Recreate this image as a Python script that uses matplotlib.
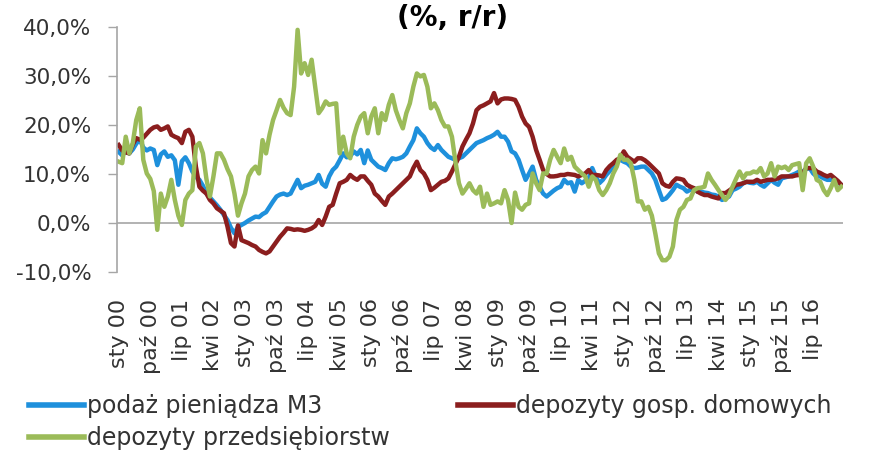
# Money supply and deposits growth (y/y), monthly 2000-2017
import numpy as np
import matplotlib
matplotlib.use('Agg')
import matplotlib.pyplot as plt
from matplotlib.ticker import FuncFormatter

# Polish month abbreviations used for the category axis
months_pl = ['sty', 'lut', 'mar', 'kwi', 'maj', 'cze',
             'lip', 'sie', 'wrz', 'paź', 'lis', 'gru']
start_year = 2000
label_step = 9

# podaż pieniądza M3 (%, r/r), one row per year
m3 = [
    14.5, 13.8, 14.6, 14.2, 15.0, 16.2, 17.0, 15.4, 14.8, 15.2, 14.9, 11.8,
    14.0, 14.6, 13.5, 13.8, 12.8, 7.8, 12.6, 13.4, 12.2, 10.5, 9.4, 8.8,
    7.6, 6.0, 5.2, 4.4, 3.6, 2.7, 1.6, 0.6, -1.0, -2.1, -0.8, -0.4,
    0.0, 0.5, 0.9, 1.3, 1.2, 1.8, 2.2, 3.3, 4.4, 5.4, 5.8, 6.0,
    5.7, 6.0, 7.4, 8.8, 7.1, 7.6, 7.8, 8.1, 8.4, 9.8, 8.0, 7.4,
    9.5, 10.8, 11.5, 12.8, 14.2, 13.4, 13.6, 14.6, 14.0, 14.9, 12.2, 14.8,
    12.9, 12.2, 11.5, 11.2, 10.8, 12.2, 13.2, 13.0, 13.2, 13.5, 14.2, 15.6,
    16.9, 19.3, 18.3, 17.6, 16.3, 15.4, 14.9, 15.9, 14.9, 14.2, 13.5, 13.2,
    12.9, 13.2, 13.5, 14.2, 14.9, 15.6, 16.3, 16.6, 16.9, 17.3, 17.6, 18.0,
    18.6, 17.6, 17.6, 16.6, 14.6, 14.2, 12.9, 10.8, 8.8, 10.1, 11.5, 8.8,
    7.4, 6.0, 5.4, 6.0, 6.6, 7.1, 7.4, 8.8, 8.1, 8.3, 6.4, 8.8,
    8.1, 8.6, 9.1, 11.2, 9.5, 8.1, 8.8, 9.8, 10.6, 11.5, 12.5, 12.9,
    12.5, 12.2, 11.5, 11.2, 11.3, 11.5, 11.5, 10.8, 10.1, 8.8, 6.7, 4.7,
    5.0, 5.8, 6.7, 7.8, 7.4, 7.1, 6.4, 6.8, 7.1, 6.4, 6.4, 6.2,
    6.1, 5.8, 5.7, 5.4, 4.7, 5.0, 5.4, 6.7, 7.0, 7.4, 8.1, 8.4,
    8.2, 8.1, 8.4, 7.8, 7.4, 8.1, 8.8, 8.2, 7.8, 9.1, 9.3, 9.5,
    9.8, 10.1, 10.5, 10.5, 11.0, 11.2, 10.1, 9.5, 9.5, 9.1, 8.8, 8.8,
    9.1, 8.3, 7.8,
]

# depozyty gosp. domowych (%, r/r)
households = [
    15.9, 14.8, 14.4, 14.2, 16.0, 17.3, 17.0, 17.4, 18.2, 19.0, 19.5, 19.7,
    19.0, 19.3, 19.7, 18.0, 17.6, 17.3, 16.3, 18.6, 19.0, 17.6, 11.5, 7.4,
    6.6, 6.0, 4.7, 4.0, 3.0, 2.5, 2.0, -0.7, -4.1, -4.8, -0.5, -3.5,
    -3.8, -4.1, -4.5, -4.8, -5.5, -5.9, -6.2, -5.8, -4.8, -3.8, -2.8, -2.0,
    -1.1, -1.2, -1.4, -1.3, -1.4, -1.6, -1.4, -1.1, -0.6, 0.6, -0.4, 1.3,
    3.3, 3.7, 6.0, 8.1, 8.4, 8.8, 9.8, 9.2, 8.8, 9.5, 9.5, 8.6,
    7.8, 6.0, 5.4, 4.5, 3.7, 5.4, 6.0, 6.7, 7.4, 8.1, 8.8, 9.5,
    11.2, 12.5, 10.8, 10.1, 8.8, 6.7, 7.2, 7.8, 8.4, 8.6, 9.1, 10.5,
    12.0, 13.5, 15.6, 17.0, 18.3, 20.3, 23.0, 23.7, 24.0, 24.4, 24.8, 26.5,
    24.4, 25.2, 25.4, 25.4, 25.3, 25.1, 23.7, 21.7, 20.3, 19.6, 17.6, 14.9,
    12.9, 10.8, 10.0, 9.5, 9.5, 9.6, 9.8, 9.8, 10.0, 9.9, 9.8, 9.5,
    9.8, 10.1, 10.8, 9.8, 9.8, 9.7, 9.5, 10.8, 11.6, 12.2, 12.9, 13.2,
    14.6, 13.5, 13.0, 12.5, 13.2, 13.2, 12.8, 12.2, 11.5, 10.8, 10.1, 8.1,
    7.6, 7.4, 8.4, 9.1, 9.0, 8.8, 7.8, 7.4, 7.1, 6.4, 6.0, 5.7,
    5.7, 5.4, 5.2, 5.0, 6.1, 6.1, 6.6, 7.1, 7.8, 7.9, 8.1, 8.4,
    8.4, 8.4, 8.8, 8.4, 8.6, 8.8, 8.8, 8.9, 9.1, 9.5, 9.5, 9.5,
    9.5, 9.7, 9.8, 10.1, 11.2, 11.2, 11.2, 10.5, 10.2, 9.8, 9.5, 9.8,
    9.2, 8.6, 7.8,
]

# depozyty przedsiębiorstw (%, r/r)
enterprises = [
    12.5, 12.2, 17.6, 14.2, 16.3, 21.0, 23.4, 12.9, 10.1, 9.0, 6.5, -1.4,
    6.0, 3.3, 5.4, 8.8, 4.7, 1.5, -0.4, 4.7, 6.0, 6.7, 15.6, 16.3,
    14.2, 9.0, 5.4, 9.5, 14.2, 14.2, 12.9, 11.0, 9.5, 6.0, 1.5, 4.0,
    6.0, 9.5, 10.8, 11.5, 10.1, 16.9, 14.2, 18.0, 21.0, 23.0, 25.1, 23.5,
    22.4, 22.0, 27.8, 39.4, 30.5, 32.6, 30.2, 33.3, 27.8, 22.4, 23.4, 24.8,
    24.1, 24.3, 24.4, 14.2, 17.6, 14.2, 13.2, 17.6, 20.0, 21.7, 22.4, 18.3,
    21.7, 23.4, 18.3, 22.4, 21.0, 24.1, 26.1, 23.0, 21.0, 19.3, 22.4, 24.4,
    27.8, 30.5, 29.9, 30.2, 27.8, 23.4, 24.4, 23.0, 21.0, 19.7, 19.7, 17.6,
    12.5, 8.1, 6.0, 7.0, 8.1, 6.7, 6.0, 7.4, 3.3, 6.0, 3.7, 4.0,
    4.4, 4.0, 6.7, 4.7, 0.0, 6.2, 3.3, 2.7, 3.7, 4.0, 10.1, 8.1,
    6.7, 10.1, 10.1, 12.9, 14.9, 13.5, 12.2, 15.2, 12.9, 13.5, 11.5, 10.8,
    10.1, 9.5, 7.4, 9.5, 8.8, 6.7, 5.7, 6.7, 8.1, 10.1, 11.5, 13.9,
    12.9, 12.9, 12.2, 8.8, 4.4, 4.4, 2.7, 3.3, 1.5, -2.2, -6.2, -7.6,
    -7.6, -6.9, -4.8, 0.6, 2.7, 3.3, 4.7, 5.0, 6.7, 7.1, 7.2, 7.4,
    10.1, 8.8, 7.8, 6.7, 5.7, 4.7, 5.7, 7.4, 9.0, 10.5, 9.1, 10.1,
    10.1, 10.5, 10.3, 11.2, 9.5, 10.1, 12.2, 9.5, 11.5, 11.2, 11.5, 10.8,
    11.8, 12.0, 12.2, 6.7, 12.2, 13.2, 11.5, 8.8, 8.4, 6.7, 5.7, 7.1,
    8.8, 6.7, 7.4,
]

n = len(m3)
x = np.arange(n)
labels = [f"{months_pl[i % 12]} {(start_year + i // 12) % 100:02d}" for i in range(n)]

fig = plt.figure(figsize=(8.69, 4.59), dpi=100)
ax = fig.add_axes([0.1346, 0.4074, 0.8355, 0.534])

l1, = ax.plot(x, m3, color='#1E90DC', lw=3.2, label='podaż pieniądza M3')
l2, = ax.plot(x, households, color='#8B1E1E', lw=3.2, label='depozyty gosp. domowych')
l3, = ax.plot(x, enterprises, color='#9BBB59', lw=3.2, label='depozyty przedsiębiorstw')

# category axis sits on the zero line, labels stay at the bottom
ax.axhline(0, color='#A6A6A6', lw=1.2, zorder=0)
ax.set_xlim(-0.5, n - 0.5)
ax.set_ylim(-10, 40)
ax.set_yticks(np.arange(-10, 41, 10))
ax.yaxis.set_major_formatter(FuncFormatter(lambda v, p: f"{v:.1f}%".replace('.', ',')))

ticks = x[::label_step]
ax.set_xticks(ticks)
ax.set_xticklabels([labels[i] for i in ticks], rotation=90, fontsize=16, color='#333333')
ax.tick_params(axis='x', length=0, pad=19)
ax.tick_params(axis='y', length=6.5, width=1, color='#A6A6A6', pad=12,
               labelsize=15.5, labelcolor='#333333')

for side in ['top', 'right', 'bottom']:
    ax.spines[side].set_visible(False)
ax.spines['left'].set_color('#A6A6A6')
ax.spines['left'].set_linewidth(1.2)

fig.text(0.521, 0.96, '(%, r/r)', ha='center', va='center',
         fontsize=20, fontweight='bold', color='black')

# legend: two items in first row, one in second
fig.legend([l1, l3, l2], [l1.get_label(), l3.get_label(), l2.get_label()],
           loc='upper left', bbox_to_anchor=(0.033, 0.1416), ncol=2,
           frameon=False, fontsize=17, handlelength=2.33, handletextpad=0.12,
           columnspacing=2.9, borderpad=0, borderaxespad=0, labelspacing=0.35,
           labelcolor='#333333')
for h in fig.legends[0].legend_handles:
    h.set_linewidth(4)

fig.savefig('out.png', dpi=100)
